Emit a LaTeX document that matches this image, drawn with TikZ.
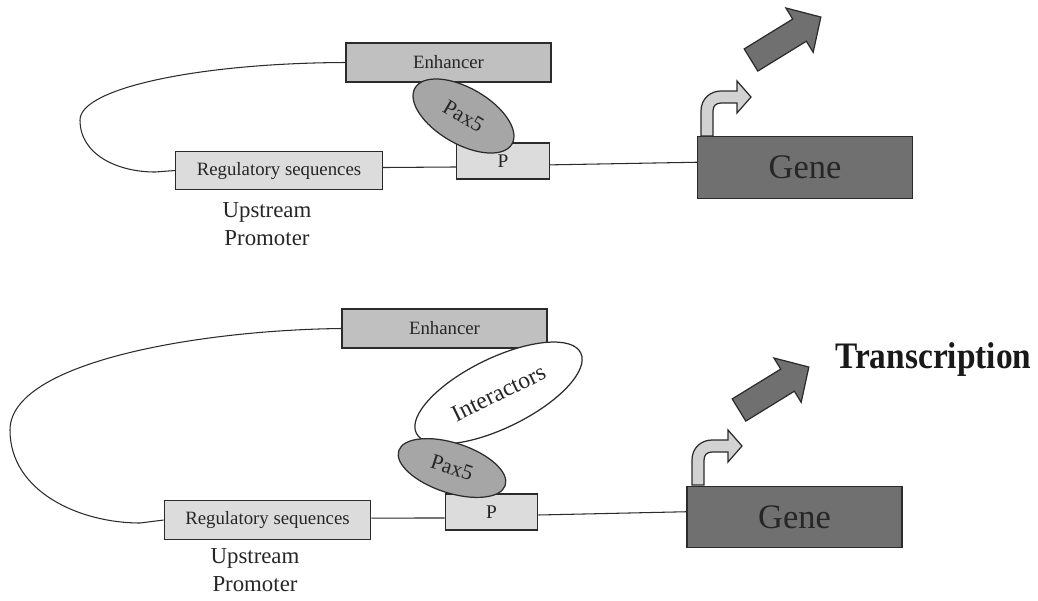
\documentclass[tikz,border=0pt]{standalone}
\usepackage{fontspec}
\setmainfont{Liberation Serif}
\usepackage{graphicx}
\usetikzlibrary{shapes.geometric}
\definecolor{enhfill}{HTML}{C0C0C0}
\definecolor{paxfill}{HTML}{A6A6A6}
\definecolor{lightbox}{HTML}{DCDCDC}
\definecolor{genefill}{HTML}{707070}
\definecolor{bentfill}{HTML}{D2D2D2}
\definecolor{ink}{HTML}{2B2B2B}
\definecolor{txt}{HTML}{262626}
\begin{document}
\begin{tikzpicture}[x=0.02cm,y=-0.02cm,
  box/.style={draw=ink, line width=0.7pt, inner sep=0pt, text=txt},
  enhbox/.style={box, fill=enhfill, minimum width=4.1cm, minimum height=0.78cm, font=\fontsize{10.7}{12}\selectfont},
  regbox/.style={box, fill=lightbox, minimum width=4.13cm, minimum height=0.77cm, font=\fontsize{10.7}{12}\selectfont},
  pbox/.style={box, fill=lightbox, minimum width=1.85cm, minimum height=0.72cm, font=\fontsize{11}{12}\selectfont},
  genebox/.style={box, fill=genefill, minimum width=4.3cm, minimum height=1.23cm, font=\fontsize{19.6}{22}\selectfont},
  paxell/.style={box, ellipse, fill=paxfill, font=\fontsize{12.3}{14}\selectfont},
  intell/.style={box, ellipse, fill=white, font=\fontsize{13.5}{15}\selectfont},
  uplabel/.style={align=center, text=txt, inner sep=0pt, font=\fontsize{13}{15.9}\selectfont},
  link/.style={draw=ink, line width=0.6pt},
  bentarrow/.pic={
    \draw[draw=ink, line width=0.7pt, fill=bentfill, line join=miter]
      (0,0) -- (0,-25) .. controls (0,-37) and (9,-45) .. (20,-45) -- (36,-45) -- (36,-55)
      -- (50,-39) -- (36,-23) -- (36,-33) -- (20,-33) .. controls (15,-33) and (12,-30) .. (12,-25)
      -- (12,0) -- cycle;
  },
  bigarrow/.pic={
    \draw[draw=ink, line width=0.7pt, fill=genefill, line join=miter]
      (0,-13) -- (57,-13) -- (57,-26) -- (82,0) -- (57,26) -- (57,13) -- (0,13) -- cycle;
  }
]
\useasboundingbox (0,0) rectangle (1038,600);

% ---------------- top panel ----------------
\node[enhbox] (enh1) at (448.5,62.5) {Enhancer};
\node[regbox] (reg1) at (279,170.5) {Regulatory sequences};
\node[pbox] (p1) at (503,161) {P};
\node[genebox] (gene1) at (805,167.5) {Gene};
\node[paxell, minimum width=2.24cm, minimum height=1.12cm, rotate=-30] (pax1) at (463.5,116) {Pax5};
\node[uplabel] (up1) at (267,224) {Upstream\\Promoter};

\draw[link] (enh1.west) .. controls (200,63) and (80,88) .. (80,120)
  .. controls (80,155) and (118,172) .. (155,172) -- (reg1.west);
\draw[link] ([yshift=1.7pt]reg1.east) -- ([yshift=-3.4pt]p1.west);
\draw[link] ([yshift=-2.2pt]p1.east) -- ([yshift=3pt]gene1.west);

\pic at (701,136) {bentarrow};
\pic[rotate=31.6] at (751,60) {bigarrow};

% ---------------- bottom panel ----------------
\node[enhbox] (enh2) at (444.5,328.5) {Enhancer};
\node[regbox] (reg2) at (267.5,520) {Regulatory sequences};
\node[intell, minimum width=3.66cm, minimum height=1.4cm, rotate=26] (int2) at (498.5,393) {Interactors};
\node[pbox] (p2) at (491.5,512) {P};
\node[genebox] (gene2) at (794.5,517) {Gene};
\node[paxell, minimum width=2.24cm, minimum height=1.0cm, rotate=-18] (pax2) at (452,468) {Pax5};
\node[uplabel] (up2) at (255,570.5) {Upstream\\Promoter};
\node[anchor=base west, inner sep=0pt, text=black!90, font=\fontsize{19}{22}\selectfont\bfseries] (tr) at (835,368) {\scalebox{1}[1.12]{Transcription}};

\draw[link] (enh2.west) .. controls (200,330) and (10,362) .. (10,430)
  .. controls (10,492) and (80,523) .. (140,523) -- (reg2.west);
\draw[link] ([yshift=1.1pt]reg2.east) -- ([yshift=-3.4pt]p2.west);
\draw[link] ([yshift=-1.7pt]p2.east) -- ([yshift=3pt]gene2.west);

\pic at (692,485) {bentarrow};
\pic[rotate=31.6] at (739,410) {bigarrow};
\end{tikzpicture}
\end{document}
